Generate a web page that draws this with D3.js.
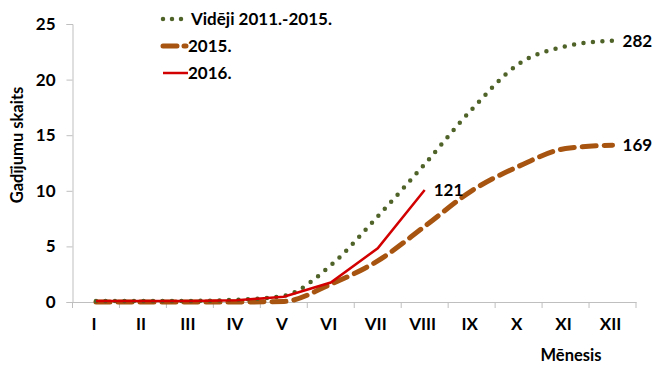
<!DOCTYPE html>
<html><head><meta charset="utf-8">
<script src="https://cdn.jsdelivr.net/npm/d3@7"></script>
<style>body{margin:0;background:#fff}svg{display:block}text{font-family:Lato,"Open Sans",sans-serif;font-weight:bold;fill:#000}</style>
</head><body><svg id="c" width="656" height="372"></svg>
<script>
const months = ["I","II","III","IV","V","VI","VII","VIII","IX","X","XI","XII"];
const avg = [0.1,0.1,0.1,0.2,0.55,3.3,7.7,12.4,17.3,21.4,23.0,23.5];
const y2015 = [0,0,0,0,0.05,1.6,3.7,6.8,10.0,12.2,13.8,14.1];
const y2016 = [0.1,0.1,0.1,0.15,0.48,1.75,4.83,10.08];
const yTicks = [0,5,10,15,20,25];
const seriesNames = ["Vidēji 2011.-2015.","2015.","2016."];
const endLabels = ["282","169","121"];

const svg = d3.select("#c");
const x = d3.scaleBand().domain(months).range([72.5,636]);
const y = d3.scaleLinear().domain([0,25]).range([302,24]);
const axisColor = "#BFBFBF";

// y axis
const ya = svg.append("g").attr("transform","translate(72.5,0)")
  .call(d3.axisLeft(y).tickValues(yTicks).tickSize(6).tickPadding(11));
ya.select(".domain").attr("stroke",axisColor);
ya.selectAll(".tick line").attr("stroke",axisColor);
ya.selectAll(".tick text").style("font-size","17px").attr("font-family",null);

// x axis
const xa = svg.append("g").attr("transform","translate(0,302)")
  .call(d3.axisBottom(x).tickSize(0).tickPadding(16).tickSizeOuter(0));
xa.select(".domain").attr("stroke",axisColor);
xa.selectAll(".tick text").style("font-size","17px").attr("font-family",null).attr("dx","-2");
// ticks at band boundaries
const bounds = months.map(m=>x(m)).concat([x.range()[1]]);
svg.append("g").selectAll("line").data(bounds).join("line")
  .attr("x1",d=>d).attr("x2",d=>d).attr("y1",302).attr("y2",308)
  .attr("stroke",axisColor);

const cx = (i)=>x(months[i])+x.bandwidth()/2;

const lineSmooth = d3.line().x((d,i)=>cx(i)).y(d=>y(d)).curve(d3.curveMonotoneX);
const lineStraight = d3.line().x((d,i)=>cx(i)).y(d=>y(d));

svg.append("path").datum(y2015).attr("d",lineSmooth).attr("fill","none")
  .attr("stroke","#A6540F").attr("stroke-width",5).attr("stroke-dasharray","14,8").attr("stroke-linecap","round");
svg.append("path").datum(avg).attr("d",lineSmooth).attr("fill","none")
  .attr("stroke","#4F6228").attr("stroke-width",4.5).attr("stroke-dasharray","0,9.5").attr("stroke-linecap","round");
svg.append("path").datum(y2016).attr("d",lineStraight).attr("fill","none")
  .attr("stroke","#D20000").attr("stroke-width",2.5);

// end labels
svg.append("text").attr("x",cx(11)+10).attr("y",y(avg[11])+6).style("font-size","17px").text(endLabels[0]);
svg.append("text").attr("x",cx(11)+10).attr("y",y(y2015[11])+6).style("font-size","17px").text(endLabels[1]);
svg.append("text").attr("x",cx(7)+9).attr("y",y(y2016[7])+6).style("font-size","17px").text(endLabels[2]);

// legend
const leg = [
  {dash:"0,9", w:4.5, c:"#4F6228", cap:"round", ty:19, x2:184, tx:191},
  {dash:"14,7", w:5, c:"#A6540F", cap:"round", ty:46, x2:186, tx:188},
  {dash:null, w:2.5, c:"#D20000", cap:"butt", ty:73, x2:188, tx:188}
];
leg.forEach((l,i)=>{
  const ln = svg.append("line").attr("x1",163).attr("x2",l.x2).attr("y1",l.ty).attr("y2",l.ty)
    .attr("stroke",l.c).attr("stroke-width",l.w).attr("stroke-linecap",l.cap);
  if(l.dash) ln.attr("stroke-dasharray",l.dash);
  svg.append("text").attr("x",l.tx).attr("y",l.ty+6).style("font-size","17px").text(seriesNames[i]);
});

// axis titles
svg.append("text").attr("transform","translate(23,145) rotate(-90)").attr("text-anchor","middle")
  .style("font-size","16.5px").text("Gadījumu skaits");
svg.append("text").attr("x",571).attr("y",361).attr("text-anchor","middle")
  .style("font-size","16.5px").text("Mēnesis");
</script></body></html>
